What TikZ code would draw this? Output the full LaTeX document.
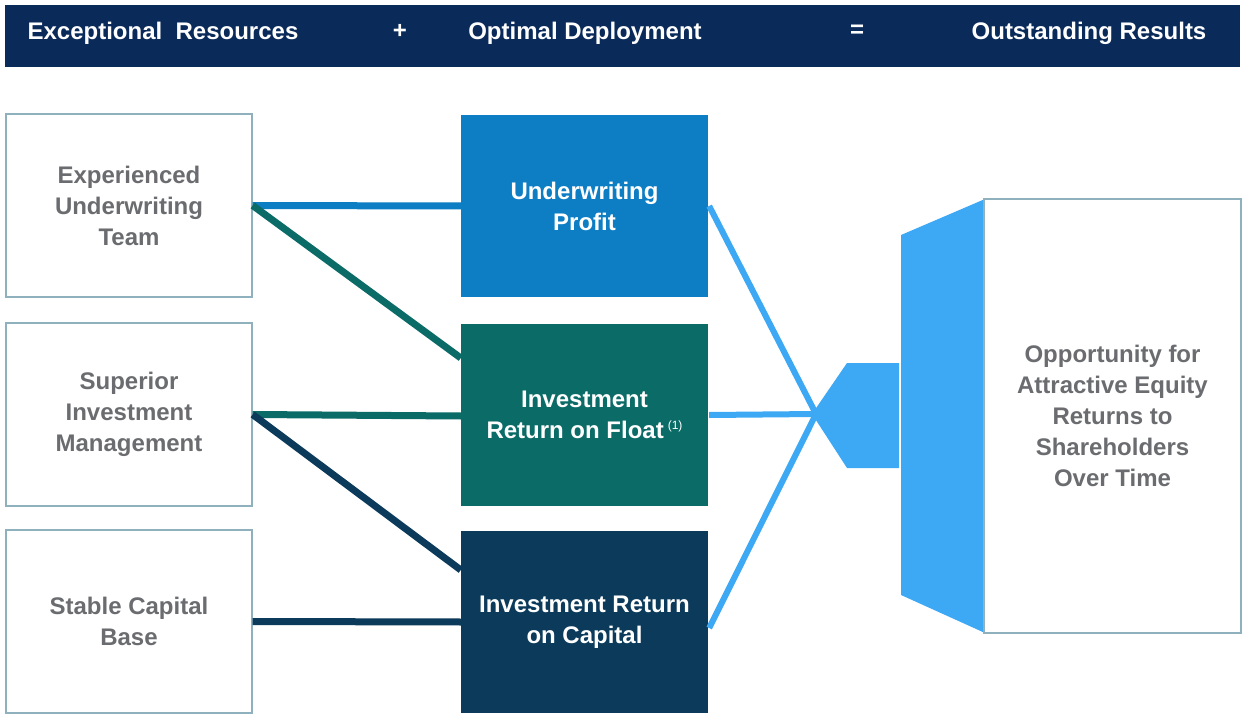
\documentclass[tikz,border=0pt]{standalone}
\usepackage{fontspec}
\setmainfont{Liberation Sans}
\definecolor{hdr}{HTML}{0A2A5A}
\definecolor{cA}{HTML}{0D7DC4}
\definecolor{cB}{HTML}{0B6B67}
\definecolor{cC}{HTML}{0B3A5A}
\definecolor{lblue}{HTML}{3DA8F4}
\definecolor{bord}{HTML}{8EB1BD}
\definecolor{txt}{HTML}{6A6C6F}
\tikzset{
  hdrtext/.style={text=white, font=\fontsize{24}{26}\selectfont\bfseries},
  leftbox/.style={draw=bord, line width=1.3pt, fill=white, minimum width=246pt, minimum height=183pt, align=center, text=txt, font=\fontsize{24}{31}\selectfont\bfseries, inner sep=0pt},
  midbox/.style={minimum width=247pt, minimum height=182pt, align=center, text=white, font=\fontsize{24}{31}\selectfont\bfseries, inner sep=0pt},
  conn/.style={line width=7pt},
  rconn/.style={line width=6pt, lblue},
}
\begin{document}
\begin{tikzpicture}[x=1pt,y=-1pt]
\useasboundingbox (0,0) rectangle (1243,714);
\fill[white] (0,0) rectangle (1243,714);
% header
\node[fill=hdr, minimum width=1235pt, minimum height=62pt, inner sep=0pt] (hdr) at (622.5,36) {};
\node[hdrtext] (h1) at (163,33) {Exceptional\ \ Resources};
\node[hdrtext] (h2) at (400,31) {+};
\node[hdrtext] (h3) at (585,33) {Optimal Deployment};
\node[hdrtext] (h4) at (857,31) {=};
\node[hdrtext] (h5) at (1089,33) {Outstanding Results};
% left boxes
\node[leftbox] (l1) at (129,205.5) {Experienced\\Underwriting\\Team};
\node[leftbox] (l2) at (129,414.5) {Superior\\Investment\\Management};
\node[leftbox] (l3) at (129,621.5) {Stable Capital\\Base};
% middle boxes
\node[midbox, fill=cA] (a) at (584.5,206) {Underwriting\\Profit};
\node[midbox, fill=cB] (b) at (584.5,415) {Investment\\Return on Float\,\raisebox{9pt}{\fontsize{12}{12}\selectfont\mdseries (1)}};
\node[midbox, fill=cC] (c) at (584.5,622) {Investment Return\\on Capital};
% left connectors
\draw[conn, cA] (l1.east) -- (a.west);
\draw[conn, cB] (l1.east) -- ([yshift=57pt]b.west);
\draw[conn, cB] (l2.east) -- ([yshift=-1pt]b.west);
\draw[conn, cC] (l2.east) -- ([yshift=52pt]c.west);
\draw[conn, cC] (l3.east) -- (c.west);
% right converging connectors
\coordinate (conv) at (816,414);
\draw[rconn] ([xshift=1pt]a.east) -- (conv);
\draw[rconn] ([xshift=1pt]b.east) -- (conv);
\draw[rconn] ([xshift=1pt,yshift=-6pt]c.east) -- (conv);
% hexagonal connector and trapezoid
\fill[lblue] (812,414) -- (847,363) -- (899,363) -- (899,468) -- (847,468) -- cycle;
\fill[lblue] (901,235) -- (985,199) -- (985,633) -- (901,595) -- cycle;
% right box
\node[draw=bord, line width=1.3pt, fill=white, minimum width=257pt, minimum height=434pt, inner sep=0pt, align=center, text=txt, font=\fontsize{24}{31}\selectfont\bfseries] (r) at (1112.5,416)
  {Opportunity for\\Attractive Equity\\Returns to\\Shareholders\\Over Time};
\end{tikzpicture}
\end{document}
